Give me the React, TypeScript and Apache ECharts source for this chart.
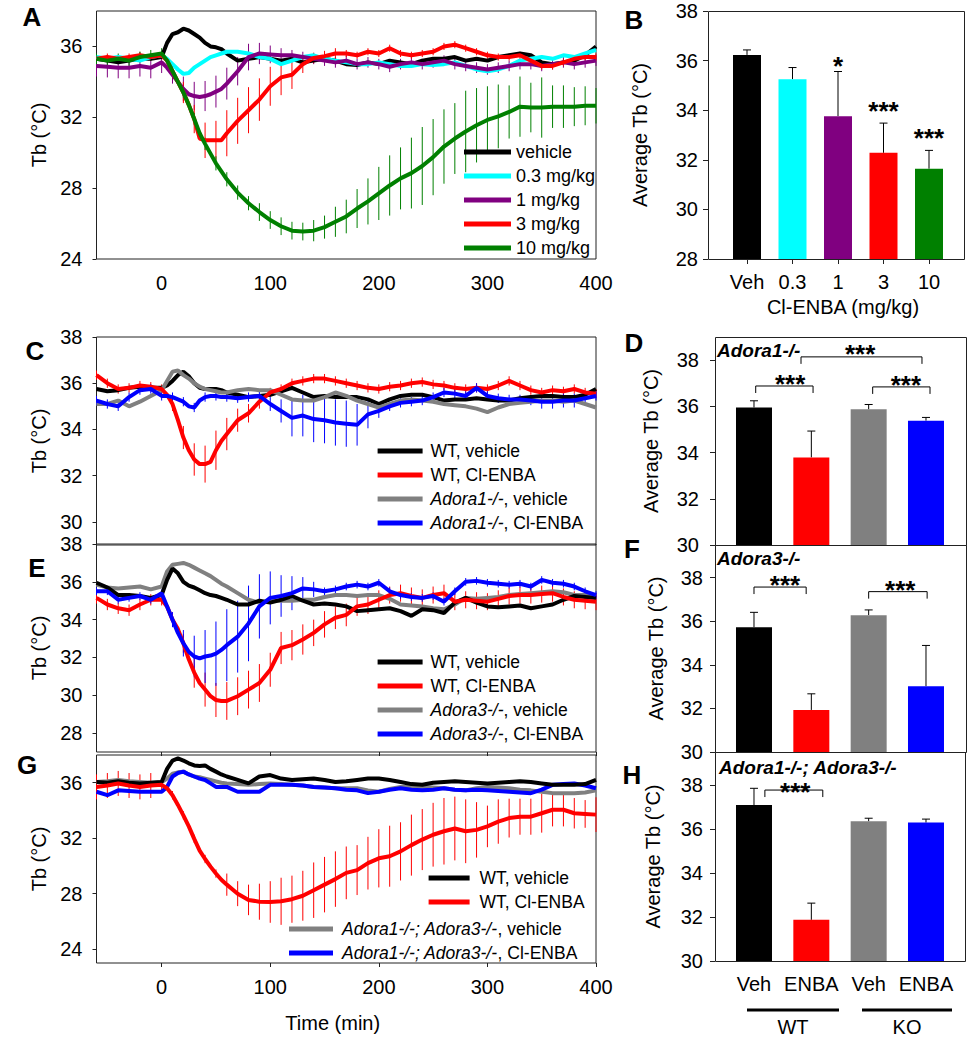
import React, { useEffect, useRef } from 'react';
import * as echarts from 'echarts';

const FONT = 'Arial, "Liberation Sans", Helvetica, sans-serif';

// ---------- time axis (min) ----------
const T = [-60, -50, -40, -30, -20, -10, 0,
  5, 10, 15, 20, 25, 30, 35, 40, 45, 50, 55, 60,
  70, 80, 90, 100, 110, 120, 130, 140, 150, 160,
  170, 180, 190, 200, 210, 220, 230, 240, 250, 260,
  270, 280, 290, 300, 310, 320, 330, 340, 350, 360,
  370, 380, 390, 400];
const X_TICKS = [0, 100, 200, 300, 400];

// ---------- Panel A ----------
const A_VEH = [35.3, 35.2, 35.1, 35.2, 35.3, 35.3, 35.4,
  36.2, 36.7, 36.8, 37.0, 36.9, 36.7, 36.5, 36.2, 36.0, 35.95, 35.85, 35.6,
  35.2, 35.3, 35.4, 35.3, 35.2, 35.3, 35.1, 35.2, 35.3, 35.2,
  35.0, 34.95, 35.1, 35.0, 35.2, 35.1, 35.0, 35.2, 35.3, 35.3,
  35.4, 35.2, 35.3, 35.2, 35.4, 35.5, 35.6, 35.5, 35.1, 35.0,
  35.1, 35.2, 35.5, 36.0];
const A_D03 = [35.4, 35.3, 35.4, 35.3, 35.2, 35.4, 35.5,
  35.3, 35.0, 34.7, 34.45, 34.5, 34.8, 35.0, 35.2, 35.4, 35.5, 35.6, 35.7,
  35.7, 35.6, 35.4, 35.3, 35.0, 35.2, 35.4, 35.5, 35.3, 35.2,
  35.1, 35.0, 35.0, 35.1, 35.0, 34.9, 34.9, 35.0, 34.95, 35.0,
  35.1, 34.9, 34.7, 34.6, 34.7, 34.9, 35.2, 35.3, 35.4, 35.3,
  35.5, 35.4, 35.6, 35.8];
const A_D1 = [34.9, 34.85, 34.8, 34.8, 34.9, 34.8, 35.1,
  34.8, 34.4, 34.0, 33.6, 33.3, 33.2, 33.15, 33.2, 33.3, 33.45, 33.6, 33.9,
  34.6, 35.4, 35.6, 35.55, 35.5, 35.5, 35.4, 35.3, 35.2, 35.1,
  35.2, 35.0, 35.1, 35.0, 34.85, 35.0, 35.1, 35.0, 35.1, 35.2,
  35.0, 34.9, 34.8, 34.7, 34.8, 34.9, 35.0, 35.0, 34.9, 35.0,
  35.1, 35.0, 35.1, 35.2];
const A_D1_ERR = [0.6, 0.6, 0.6, 0.6, 0.6, 0.6, 0.6,
  0.5, 0.5, 0.6, 0.7, 0.8, 0.8, 0.85, 0.85, 0.9, 0.9, 0.9, 0.9,
  0.8, 0.75, 0.6, 0.5, 0.4, 0.3, 0.3, 0.3, 0.3, 0.3,
  0.3, 0.3, 0.3, 0.3, 0.3, 0.3, 0.3, 0.3, 0.3, 0.3,
  0.3, 0.3, 0.3, 0.3, 0.3, 0.3, 0.3, 0.3, 0.3, 0.3,
  0.3, 0.3, 0.3, 0.3];
const A_D3 = [35.3, 35.4, 35.3, 35.4, 35.5, 35.4, 35.5,
  35.2, 34.6, 34.0, 33.4, 32.7, 31.9, 30.8, 30.7, 30.7, 30.7, 30.7, 31.1,
  31.8, 32.4, 33.0, 33.75, 34.25, 34.4, 35.0, 35.35, 35.45, 35.6,
  35.6, 35.5, 35.7, 35.6, 35.9, 35.6, 35.5, 35.6, 35.7, 36.0,
  36.1, 35.9, 35.7, 35.5, 35.4, 35.4, 35.5, 35.2, 34.9, 34.9,
  35.1, 35.3, 35.4, 35.4];
const A_D3_ERR = [0.2, 0.2, 0.2, 0.2, 0.2, 0.2, 0.2,
  0.2, 0.4, 0.5, 0.6, 0.7, 0.8, 0.9, 1.0, 1.0, 1.1, 1.1, 1.3,
  1.3, 1.3, 1.2, 1.1, 1.0, 0.8, 0.5, 0.3, 0.3, 0.3,
  0.2, 0.2, 0.2, 0.2, 0.2, 0.2, 0.2, 0.2, 0.2, 0.2,
  0.2, 0.2, 0.2, 0.2, 0.2, 0.2, 0.2, 0.2, 0.2, 0.2,
  0.2, 0.2, 0.2, 0.2];
const A_D10 = [35.3, 35.2, 35.3, 35.2, 35.4, 35.5, 35.6,
  35.2, 34.6, 34.0, 33.4, 32.7, 31.9, 31.1, 30.5, 29.95, 29.4, 28.95, 28.5,
  27.75, 27.15, 26.65, 26.2, 25.85, 25.6, 25.55, 25.6, 25.8, 26.1,
  26.4, 26.85, 27.25, 27.7, 28.15, 28.55, 28.85, 29.25, 29.75, 30.35,
  30.8, 31.2, 31.55, 31.85, 32.05, 32.3, 32.6, 32.55, 32.55, 32.6,
  32.6, 32.6, 32.65, 32.65];
const A_D10_ERR = [0.3, 0.3, 0.3, 0.3, 0.3, 0.3, 0.3,
  0.3, 0.3, 0.3, 0.3, 0.3, 0.35, 0.35, 0.35, 0.35, 0.4, 0.4, 0.4,
  0.4, 0.4, 0.5, 0.5, 0.5, 0.5, 0.5, 0.6, 0.65, 0.85,
  0.95, 1.1, 1.3, 1.5, 1.7, 1.75, 2.0, 2.2, 2.15, 2.1,
  2.0, 2.3, 2.1, 1.9, 1.8, 1.5, 1.7, 1.4, 1.7, 1.2,
  1.2, 1.1, 1.1, 1.0];

// ---------- Panel C ----------
const C_WT_VEH = [35.75, 35.65, 35.7, 35.8, 35.85, 35.8, 35.8,
  35.9, 36.1, 36.35, 36.5, 36.3, 36.0, 35.8, 35.75, 35.75, 35.75, 35.7, 35.6,
  35.5, 35.4, 35.45, 35.5, 35.65, 35.8, 35.6, 35.4, 35.45, 35.4,
  35.4, 35.4, 35.3, 35.1, 35.3, 35.45, 35.5, 35.5, 35.4, 35.25,
  35.3, 35.3, 35.35, 35.3, 35.25, 35.25, 35.35, 35.4, 35.45, 35.45,
  35.4, 35.4, 35.5, 35.75];
const C_WT_ENBA = [36.35, 36.0, 35.75, 35.8, 35.9, 35.85, 35.75,
  35.5, 35.1, 34.4, 33.65, 33.1, 32.7, 32.5, 32.5, 32.6, 33.1, 33.5, 33.8,
  34.4, 34.7, 35.2, 35.6, 35.75, 36.0, 36.1, 36.2, 36.2, 36.1,
  36.0, 35.9, 35.8, 35.75, 35.85, 35.9, 36.0, 36.05, 35.95, 35.9,
  35.8, 35.75, 35.8, 35.75, 35.9, 36.1, 35.9, 35.7, 35.6, 35.7,
  35.65, 35.75, 35.6, 35.55];
const C_WT_ENBA_ERR = [0.2, 0.2, 0.2, 0.2, 0.2, 0.2, 0.2,
  0.2, 0.3, 0.4, 0.5, 0.6, 0.7, 0.8, 0.8, 0.8, 0.85, 0.8, 0.7,
  0.5, 0.4, 0.3, 0.2, 0.2, 0.2, 0.2, 0.2, 0.2, 0.2,
  0.2, 0.2, 0.2, 0.2, 0.2, 0.2, 0.2, 0.2, 0.2, 0.2,
  0.2, 0.2, 0.2, 0.2, 0.2, 0.2, 0.2, 0.2, 0.2, 0.2,
  0.2, 0.2, 0.2, 0.2];
const C_KO_VEH = [35.1, 35.1, 35.25, 35.0, 35.2, 35.45, 35.7,
  36.1, 36.5, 36.55, 36.35, 36.2, 36.0, 35.85, 35.75, 35.7, 35.65, 35.6, 35.6,
  35.7, 35.75, 35.7, 35.7, 35.5, 35.3, 35.25, 35.25, 35.4, 35.6,
  35.45, 35.25, 35.1, 34.95, 35.1, 35.25, 35.3, 35.25, 35.2, 35.1,
  35.05, 35.0, 34.9, 34.75, 34.95, 35.1, 35.15, 35.2, 35.25, 35.25,
  35.2, 35.25, 35.1, 34.95];
const C_KO_ENBA = [35.25, 35.1, 35.0, 35.4, 35.7, 35.75, 35.45,
  35.45, 35.4, 35.3, 35.2, 35.0, 34.95, 35.25, 35.4, 35.45, 35.45, 35.4, 35.4,
  35.35, 35.4, 35.45, 35.1, 34.8, 34.5, 34.6, 34.45, 34.4, 34.3,
  34.25, 34.2, 34.65, 34.8, 35.0, 35.15, 35.2, 35.25, 35.4, 35.6,
  35.55, 35.45, 35.8, 35.45, 35.35, 35.3, 35.3, 35.25, 35.2, 35.2,
  35.25, 35.25, 35.35, 35.45];
const C_KO_ENBA_ERR = [0.2, 0.2, 0.2, 0.2, 0.2, 0.2, 0.2,
  0.2, 0.2, 0.2, 0.2, 0.2, 0.2, 0.2, 0.2, 0.2, 0.2, 0.2, 0.2,
  0.2, 0.2, 0.2, 0.3, 0.5, 0.8, 0.9, 1.0, 1.0, 1.0,
  1.0, 0.9, 0.6, 0.3, 0.2, 0.2, 0.2, 0.2, 0.2, 0.2,
  0.2, 0.2, 0.2, 0.2, 0.2, 0.2, 0.2, 0.2, 0.3, 0.3,
  0.3, 0.3, 0.2, 0.2];

// ---------- Panel E ----------
const E_WT_VEH = [35.95, 35.7, 35.3, 35.3, 35.25, 35.15, 35.3,
  36.1, 36.7, 36.45, 36.0, 35.8, 35.7, 35.55, 35.4, 35.3, 35.25, 35.15, 35.05,
  34.8, 34.8, 35.0, 34.9, 35.05, 35.25, 35.0, 34.8, 34.85, 34.8,
  34.7, 34.45, 34.5, 34.55, 34.6, 34.45, 34.2, 34.55, 34.5, 34.35,
  34.9, 35.15, 34.9, 34.7, 34.65, 34.7, 34.75, 34.6, 34.7, 34.8,
  35.05, 35.25, 35.2, 35.15];
const E_WT_ENBA = [35.15, 34.8, 34.6, 34.5, 34.8, 35.05, 35.05,
  34.7, 34.0, 33.5, 32.75, 31.9, 31.2, 30.65, 30.3, 29.95, 29.75, 29.7, 29.7,
  29.95, 30.3, 30.65, 31.35, 32.5, 32.65, 32.95, 33.3, 33.75, 34.1,
  34.25, 34.7, 34.8, 35.05, 35.3, 35.4, 35.25, 35.15, 35.3, 35.4,
  34.95, 35.05, 35.0, 34.95, 35.1, 35.25, 35.3, 35.3, 35.35, 35.4,
  35.2, 35.05, 35.0, 34.95];
const E_WT_ENBA_ERR = [0.3, 0.3, 0.3, 0.3, 0.3, 0.3, 0.3,
  0.3, 0.3, 0.4, 0.5, 0.6, 0.8, 0.8, 0.9, 0.9, 0.9, 1.0, 1.0,
  1.0, 1.0, 1.0, 0.9, 0.85, 0.8, 0.8, 0.7, 0.7, 0.6,
  0.6, 0.5, 0.5, 0.5, 0.45, 0.45, 0.45, 0.45, 0.45, 0.45,
  0.45, 0.45, 0.45, 0.45, 0.45, 0.45, 0.45, 0.45, 0.45, 0.45,
  0.45, 0.45, 0.45, 0.45];
const E_KO_VEH = [35.85, 35.7, 35.65, 35.7, 35.75, 35.6, 35.75,
  36.55, 36.9, 36.95, 37.0, 36.9, 36.75, 36.6, 36.45, 36.3, 36.1, 35.9, 35.75,
  35.4, 35.05, 34.9, 35.0, 35.0, 35.0, 35.05, 35.05, 35.2, 35.3,
  35.3, 35.25, 35.3, 35.3, 35.1, 34.8, 34.75, 34.7, 34.6, 34.55,
  34.8, 35.15, 35.1, 35.15, 35.2, 35.3, 35.35, 35.4, 35.45, 35.5,
  35.45, 35.3, 35.3, 35.25];
const E_KO_ENBA = [35.5, 35.5, 35.05, 35.15, 35.25, 35.05, 35.4,
  34.7, 34.0, 33.3, 32.75, 32.3, 32.05, 31.95, 32.05, 32.1, 32.2, 32.4, 32.65,
  33.1, 33.8, 34.7, 35.15, 35.25, 35.4, 35.65, 35.6, 35.5, 35.6,
  35.75, 35.85, 35.75, 35.95, 35.5, 35.3, 35.2, 35.15, 35.25, 34.95,
  35.5, 36.0, 36.05, 35.95, 35.9, 35.85, 35.9, 35.75, 36.1, 35.95,
  35.9, 35.75, 35.5, 35.3];
const E_KO_ENBA_ERR = [0.2, 0.2, 0.2, 0.2, 0.2, 0.2, 0.2,
  0.3, 0.4, 0.6, 0.7, 0.8, 1.1, 1.2, 1.4, 1.5, 1.7, 1.8, 1.9,
  1.9, 2.0, 1.7, 1.4, 1.1, 0.9, 0.6, 0.4, 0.2, 0.2,
  0.2, 0.2, 0.2, 0.2, 0.2, 0.2, 0.2, 0.2, 0.2, 0.2,
  0.2, 0.2, 0.2, 0.2, 0.2, 0.2, 0.2, 0.2, 0.2, 0.2,
  0.2, 0.2, 0.2, 0.2];

// ---------- Panel G ----------
const G_WT_VEH = [36.05, 36.0, 36.1, 36.0, 35.95, 36.0, 36.05,
  37.0, 37.6, 37.75, 37.6, 37.4, 37.25, 37.2, 37.25, 37.0, 36.8, 36.6, 36.45,
  36.2, 35.95, 36.45, 36.55, 36.3, 36.2, 36.25, 36.3, 36.2, 36.05,
  36.1, 36.2, 36.3, 36.3, 36.2, 36.05, 35.9, 35.85, 36.0, 36.05,
  36.1, 36.05, 36.0, 35.95, 36.0, 36.05, 36.1, 36.05, 35.95, 35.85,
  35.85, 35.85, 35.9, 36.2];
const G_WT_ENBA = [35.7, 35.8, 35.95, 35.8, 35.7, 35.8, 35.85,
  35.6, 35.1, 34.4, 33.65, 32.85, 31.95, 31.1, 30.5, 29.95, 29.45, 29.0, 28.65,
  28.0, 27.55, 27.42, 27.4, 27.45, 27.6, 27.85, 28.25, 28.65, 29.05,
  29.5, 29.7, 30.2, 30.55, 30.7, 31.05, 31.5, 31.9, 32.25, 32.5,
  32.7, 32.5, 32.6, 32.85, 33.2, 33.45, 33.55, 33.55, 33.8, 34.05,
  34.05, 33.8, 33.75, 33.7];
const G_WT_ENBA_ERR = [0.9, 0.9, 0.9, 0.9, 0.9, 0.9, 0.4,
  0.3, 0.3, 0.3, 0.3, 0.3, 0.3, 0.3, 0.3, 0.3, 0.3, 0.5, 0.8,
  0.9, 1.1, 1.3, 1.5, 1.7, 1.7, 1.8, 2.0, 2.0, 2.0,
  1.9, 1.8, 1.9, 2.1, 2.2, 2.1, 2.2, 2.2, 2.3, 2.4,
  2.3, 2.3, 2.0, 1.5, 1.6, 1.4, 1.3, 1.3, 1.4, 1.2,
  1.2, 1.1, 1.0, 1.25];
const G_KO_VEH = [36.05, 36.1, 36.2, 36.1, 36.05, 36.0, 36.05,
  36.3, 36.65, 36.75, 36.8, 36.6, 36.45, 36.4, 36.3, 36.2, 36.1, 36.0, 35.95,
  35.9, 35.85, 35.9, 35.95, 35.9, 35.85, 35.8, 35.7, 35.65, 35.6,
  35.6, 35.6, 35.45, 35.35, 35.55, 35.7, 35.7, 35.7, 35.65, 35.6,
  35.5, 35.45, 35.6, 35.7, 35.65, 35.6, 35.5, 35.45, 35.35, 35.25,
  35.25, 35.25, 35.3, 35.45];
const G_KO_ENBA = [35.35, 35.1, 35.45, 35.4, 35.35, 35.35, 35.35,
  35.7, 36.45, 36.7, 36.8, 36.6, 36.45, 36.3, 36.2, 35.95, 35.7, 35.7, 35.7,
  35.35, 35.35, 35.35, 35.85, 35.85, 35.85, 35.8, 35.7, 35.65, 35.6,
  35.5, 35.45, 35.25, 35.35, 35.5, 35.6, 35.5, 35.45, 35.5, 35.6,
  35.5, 35.45, 35.5, 35.45, 35.4, 35.35, 35.3, 35.25, 35.5, 35.85,
  35.9, 35.95, 35.8, 35.6];

// ---------- Bar panels ----------
const CAT_B = ['Veh', '0.3', '1', '3', '10'];
const MEAN_B = [36.23, 35.25, 33.76, 32.28, 31.64];
const ERR_B = [0.2, 0.47, 1.8, 1.2, 0.74];
const STAR_B_X = [2, 3, 4];
const STAR_B_Y = [36.05, 34.25, 33.15];
const STAR_B_TXT = ['*', '***', '***'];

const CAT_KO = ['Veh', 'ENBA', 'Veh', 'ENBA'];
const MEAN_D = [35.95, 33.79, 35.87, 35.38];
const ERR_D = [0.29, 1.14, 0.21, 0.14];
const BRK_D_X1 = [0.03, 2.07, 0.82];
const BRK_D_X2 = [1.03, 3.07, 2.93];
const BRK_D_Y = [36.88, 36.84, 38.14];
const STAR_D_X = [0.63, 2.65, 1.85];
const STAR_D_Y = [37.27, 37.23, 38.55];
const STAR_D_TXT = ['***', '***', '***'];

const MEAN_F = [35.73, 31.93, 36.28, 33.02];
const ERR_F = [0.68, 0.74, 0.24, 1.87];
const BRK_F_X1 = [0, 2.0];
const BRK_F_X2 = [0.91, 3.02];
const BRK_F_Y = [37.57, 37.36];
const STAR_F_X = [0.54, 2.55];
const STAR_F_Y = [37.99, 37.77];
const STAR_F_TXT = ['***', '***'];

const MEAN_H = [37.09, 31.87, 36.35, 36.29];
const ERR_H = [0.76, 0.76, 0.14, 0.16];
const BRK_H_X1 = [0.19];
const BRK_H_X2 = [1.2];
const BRK_H_Y = [37.77];
const STAR_H_X = [0.72];
const STAR_H_Y = [38.0];
const STAR_H_TXT = ['***'];

const BLACK = '#000000';
const CYAN = '#00FFFF';
const PURPLE = '#800080';
const RED = '#FF0000';
const GREEN = '#008000';
const GRAY = '#808080';
const BLUE = '#0000FF';
const KO_COLORS = [BLACK, RED, GRAY, BLUE];
const B_COLORS = [BLACK, CYAN, PURPLE, RED, GREEN];

const AX_TXT = { color: '#000', fontSize: 20, fontFamily: FONT };
const NAME_TXT = { color: '#000', fontSize: 20, fontFamily: FONT };

const pts = (vals: number[]) => T.map((t, i) => [t, vals[i]]);
const errPts = (vals: number[], errs: number[]) =>
  T.map((t, i) => [t, vals[i], errs[i]]).filter((d) => d[0] % 10 === 0 && d[2] > 0);

function lineSeries(name: string, g: number, vals: number[], color: string) {
  return {
    type: 'line', name, xAxisIndex: g, yAxisIndex: g, data: pts(vals),
    showSymbol: false, symbol: 'none', silent: true,
    lineStyle: { color, width: 4 }, itemStyle: { color },
  };
}
function errSeries(g: number, vals: number[], errs: number[], color: string) {
  return {
    type: 'custom', xAxisIndex: g, yAxisIndex: g, data: errPts(vals, errs), silent: true, clip: true,
    encode: { x: 0, y: 1 },
    renderItem: (params: any, api: any) => {
      const x = api.value(0), y = api.value(1), e = api.value(2);
      const a = api.coord([x, y - e]);
      const b = api.coord([x, y + e]);
      return { type: 'line', shape: { x1: a[0], y1: a[1], x2: b[0], y2: b[1] }, style: { stroke: color, lineWidth: 1 } };
    },
  };
}
function barSeries(g: number, means: number[], colors: string[], width: number) {
  return {
    type: 'bar', xAxisIndex: g, yAxisIndex: g, barWidth: width, silent: true,
    data: means.map((m, i) => ({ value: m, itemStyle: { color: colors[i] } })),
  };
}
function barErrSeries(g: number, means: number[], errs: number[]) {
  return {
    type: 'custom', xAxisIndex: g, yAxisIndex: g, silent: true,
    data: means.map((m, i) => [i, m, errs[i]]),
    renderItem: (params: any, api: any) => {
      const i = api.value(0), m = api.value(1), e = api.value(2);
      const a = api.coord([i, m]);
      const b = api.coord([i, m + e]);
      return {
        type: 'group', children: [
          { type: 'line', shape: { x1: a[0], y1: a[1], x2: b[0], y2: b[1] }, style: { stroke: '#000', lineWidth: 1 } },
          { type: 'line', shape: { x1: b[0] - 4, y1: b[1], x2: b[0] + 4, y2: b[1] }, style: { stroke: '#000', lineWidth: 1 } },
        ],
      };
    },
  };
}
const bandX = (api: any, f: number, y: number) => {
  const a = api.coord([0, y]);
  const b = api.coord([1, y]);
  return [a[0] + f * (b[0] - a[0]), a[1]];
};
function bracketSeries(g: number, x1s: number[], x2s: number[], ys: number[]) {
  return {
    type: 'custom', xAxisIndex: g, yAxisIndex: g, silent: true,
    data: ys.map((y, i) => [0, y]),
    renderItem: (params: any, api: any) => {
      const i = params.dataIndex;
      const p1 = bandX(api, x1s[i], ys[i]);
      const p2 = bandX(api, x2s[i], ys[i]);
      const leg = 7;
      return {
        type: 'polyline',
        shape: { points: [[p1[0], p1[1] + leg], [p1[0], p1[1]], [p2[0], p2[1]], [p2[0], p2[1] + leg]] },
        style: { stroke: '#000', lineWidth: 1, fill: 'none' },
      };
    },
  };
}
function starSeries(g: number, xs: number[], ys: number[], txts: string[]) {
  return {
    type: 'custom', xAxisIndex: g, yAxisIndex: g, silent: true,
    data: ys.map((y, i) => [0, y]),
    renderItem: (params: any, api: any) => {
      const i = params.dataIndex;
      const p = bandX(api, xs[i], ys[i]);
      return {
        type: 'text', x: p[0], y: p[1] + 7,
        style: { text: txts[i], fill: '#000', fontSize: 26, fontWeight: 'bold', fontFamily: FONT, align: 'center', verticalAlign: 'middle' },
      };
    },
  };
}

function lineX(g: number, labels: boolean, ticks: boolean, extra: any = {}) {
  return {
    type: 'value', gridIndex: g, min: -60, max: 400,
    axisLine: { show: false, onZero: false },
    axisTick: { show: ticks, customValues: X_TICKS, length: 4, lineStyle: { color: '#222' } },
    axisLabel: { show: labels, customValues: X_TICKS, margin: 14, ...AX_TXT },
    splitLine: { show: false },
    ...extra,
  };
}
function lineY(g: number, min: number, max: number, ticks: number[]) {
  return {
    type: 'value', gridIndex: g, min, max,
    axisLine: { show: false, onZero: false },
    axisTick: { show: true, customValues: ticks, length: 4, lineStyle: { color: '#222' } },
    axisLabel: { customValues: ticks, margin: 14, ...AX_TXT },
    splitLine: { show: false },
    name: 'Tb (°C)', nameLocation: 'middle', nameRotate: 90, nameGap: 43, nameTextStyle: NAME_TXT,
  };
}
function barX(g: number, cats: string[], labels: boolean, ticks: boolean, extra: any = {}) {
  return {
    type: 'category', gridIndex: g, data: cats,
    axisLine: { show: false, onZero: false },
    axisTick: { show: ticks, alignWithLabel: true, length: 5, lineStyle: { color: '#222' } },
    axisLabel: { show: labels, interval: 0, margin: 13, ...AX_TXT },
    splitLine: { show: false },
    ...extra,
  };
}
function barY(g: number, min: number, max: number, ticks: number[], offset: number, margin: number, nameGap: number) {
  return {
    type: 'value', gridIndex: g, min, max, offset,
    axisLine: { show: false, onZero: false },
    axisTick: { show: true, customValues: ticks, length: 5, lineStyle: { color: '#222' } },
    axisLabel: { customValues: ticks, margin, ...AX_TXT },
    splitLine: { show: false },
    name: 'Average Tb (°C)', nameLocation: 'middle', nameRotate: 90, nameGap, nameTextStyle: NAME_TXT,
  };
}

const legendFmt = (name: string) => {
  const s = name.replace(/^[A-Z]:/, '');
  const m = s.match(/^(Adora[^,]*),(.*)$/);
  return m ? `{i|${m[1]}}{n|,${m[2]}}` : `{n|${s}}`;
};
function legend(names: string[], left: number, top: number, itemWidth: number, fontSize: number, padLeft: number) {
  return {
    data: names, left, top, orient: 'vertical', itemWidth, itemHeight: 5, itemGap: 24 - 18,
    icon: 'rect', padding: 0, selectedMode: false, formatter: legendFmt,
    textStyle: {
      fontSize, fontFamily: FONT, color: '#000', lineHeight: 18, padding: [0, 0, 0, padLeft],
      rich: {
        i: { fontStyle: 'italic', fontSize, fontFamily: FONT, color: '#000', lineHeight: 18 },
        n: { fontSize, fontFamily: FONT, color: '#000', lineHeight: 18 },
      },
    },
  };
}

function buildOption() {
  const lineGrid = (top: number, height: number) => ({
    left: 96.5, top, width: 499.5, height, show: true, borderColor: '#222', borderWidth: 1,
    backgroundColor: 'transparent', outerBoundsMode: 'none',
  });
  const barGrid = (left: number, top: number, width: number, height: number) => ({
    left, top, width, height, show: false, outerBoundsMode: 'none',
  });

  const letter = (t: string, x: number, y: number) => ({
    type: 'text', x, y, silent: true,
    style: { text: t, fill: '#000', fontSize: 26, fontWeight: 'bold', fontFamily: FONT, align: 'center', verticalAlign: 'middle' },
  });
  const frame = (x: number, y: number, w: number, h: number) => ({
    type: 'rect', silent: true, shape: { x: x + 0.5, y: y + 0.5, width: w, height: h },
    style: { fill: 'none', stroke: '#222', lineWidth: 1 },
  });
  const gLabel = (t: string, x: number, y: number) => ({
    type: 'text', x, y, silent: true,
    style: { text: t, fill: '#000', fontSize: 19, fontWeight: 'bold', fontStyle: 'italic', fontFamily: FONT, align: 'left', verticalAlign: 'middle' },
  });
  const plain = (t: string, x: number, y: number) => ({
    type: 'text', x, y, silent: true,
    style: { text: t, fill: '#000', fontSize: 20, fontFamily: FONT, align: 'center', verticalAlign: 'middle' },
  });
  const hline = (x1: number, x2: number, y: number) => ({
    type: 'line', silent: true, shape: { x1, y1: y, x2, y2: y }, style: { stroke: '#000', lineWidth: 3 },
  });

  return {
    animation: false,
    backgroundColor: '#ffffff',
    textStyle: { fontFamily: FONT },
    grid: [
      lineGrid(11, 248),            // 0 A
      lineGrid(337, 208),           // 1 C
      lineGrid(544, 208),           // 2 E
      lineGrid(755, 208),           // 3 G
      barGrid(724.25, 11, 227.5, 248),   // 4 B
      barGrid(725.33, 337, 229.33, 208), // 5 D
      barGrid(725.33, 545, 229.33, 207), // 6 F
      barGrid(725.33, 752, 229.33, 209), // 7 H
    ],
    xAxis: [
      lineX(0, true, false),
      lineX(1, false, false),
      lineX(2, false, true),
      lineX(3, true, true, {
        name: 'Time (min)', nameLocation: 'middle', nameGap: 50,
        nameTextStyle: { ...NAME_TXT, padding: [0, 27, 0, 0] },
      }),
      barX(4, CAT_B, true, true, {
        name: 'Cl-ENBA (mg/kg)', nameLocation: 'middle', nameGap: 38,
        nameTextStyle: { ...NAME_TXT, padding: [0, 0, 0, 10] },
      }),
      barX(5, CAT_KO, false, false),
      barX(6, CAT_KO, false, false),
      barX(7, CAT_KO, true, false),
    ],
    yAxis: [
      lineY(0, 24, 38, [24, 28, 32, 36]),
      lineY(1, 29, 38, [30, 32, 34, 36, 38]),
      lineY(2, 27, 38, [28, 30, 32, 34, 36, 38]),
      lineY(3, 23, 38, [24, 28, 32, 36]),
      barY(4, 28, 38, [28, 30, 32, 34, 36, 38], 16.25, 10, 58),
      barY(5, 30, 39, [30, 32, 34, 36, 38], 10.33, 16, 54),
      barY(6, 30, 39.5, [30, 32, 34, 36, 38], 10.33, 12, 49),
      barY(7, 30, 39.5, [30, 32, 34, 36, 38], 10.33, 12, 52),
    ],
    legend: [
      legend(['vehicle', '0.3 mg/kg', '1 mg/kg', '3 mg/kg', '10 mg/kg'], 464, 143, 47, 18, 0),
      legend(['C:WT, vehicle', 'C:WT, Cl-ENBA', 'C:Adora1-/-, vehicle', 'C:Adora1-/-, Cl-ENBA'], 377.6, 442, 45, 17.5, 3),
      legend(['E:WT, vehicle', 'E:WT, Cl-ENBA', 'E:Adora3-/-, vehicle', 'E:Adora3-/-, Cl-ENBA'], 377.6, 653, 45, 17.5, 3),
      legend(['G:WT, vehicle', 'G:WT, Cl-ENBA'], 428.6, 869, 41, 17.5, 5),
      legend(['G:Adora1-/-; Adora3-/-, vehicle', 'G:Adora1-/-; Adora3-/-, Cl-ENBA'], 289, 920, 44, 17.5, 4),
    ],
    series: [
      // A
      lineSeries('vehicle', 0, A_VEH, BLACK),
      lineSeries('0.3 mg/kg', 0, A_D03, CYAN),
      lineSeries('1 mg/kg', 0, A_D1, PURPLE),
      lineSeries('3 mg/kg', 0, A_D3, RED),
      lineSeries('10 mg/kg', 0, A_D10, GREEN),
      errSeries(0, A_D1, A_D1_ERR, PURPLE),
      errSeries(0, A_D3, A_D3_ERR, RED),
      errSeries(0, A_D10, A_D10_ERR, GREEN),
      // C
      lineSeries('C:WT, vehicle', 1, C_WT_VEH, BLACK),
      lineSeries('C:Adora1-/-, vehicle', 1, C_KO_VEH, GRAY),
      lineSeries('C:WT, Cl-ENBA', 1, C_WT_ENBA, RED),
      lineSeries('C:Adora1-/-, Cl-ENBA', 1, C_KO_ENBA, BLUE),
      errSeries(1, C_WT_ENBA, C_WT_ENBA_ERR, RED),
      errSeries(1, C_KO_ENBA, C_KO_ENBA_ERR, BLUE),
      // E
      lineSeries('E:Adora3-/-, vehicle', 2, E_KO_VEH, GRAY),
      lineSeries('E:WT, vehicle', 2, E_WT_VEH, BLACK),
      lineSeries('E:WT, Cl-ENBA', 2, E_WT_ENBA, RED),
      lineSeries('E:Adora3-/-, Cl-ENBA', 2, E_KO_ENBA, BLUE),
      errSeries(2, E_WT_ENBA, E_WT_ENBA_ERR, RED),
      errSeries(2, E_KO_ENBA, E_KO_ENBA_ERR, BLUE),
      // G
      lineSeries('G:Adora1-/-; Adora3-/-, vehicle', 3, G_KO_VEH, GRAY),
      lineSeries('G:Adora1-/-; Adora3-/-, Cl-ENBA', 3, G_KO_ENBA, BLUE),
      lineSeries('G:WT, vehicle', 3, G_WT_VEH, BLACK),
      lineSeries('G:WT, Cl-ENBA', 3, G_WT_ENBA, RED),
      errSeries(3, G_WT_ENBA, G_WT_ENBA_ERR, RED),
      // B
      barSeries(4, MEAN_B, B_COLORS, 28),
      barErrSeries(4, MEAN_B, ERR_B),
      starSeries(4, STAR_B_X, STAR_B_Y, STAR_B_TXT),
      // D
      barSeries(5, MEAN_D, KO_COLORS, 36),
      barErrSeries(5, MEAN_D, ERR_D),
      bracketSeries(5, BRK_D_X1, BRK_D_X2, BRK_D_Y),
      starSeries(5, STAR_D_X, STAR_D_Y, STAR_D_TXT),
      // F
      barSeries(6, MEAN_F, KO_COLORS, 36),
      barErrSeries(6, MEAN_F, ERR_F),
      bracketSeries(6, BRK_F_X1, BRK_F_X2, BRK_F_Y),
      starSeries(6, STAR_F_X, STAR_F_Y, STAR_F_TXT),
      // H
      barSeries(7, MEAN_H, KO_COLORS, 36),
      barErrSeries(7, MEAN_H, ERR_H),
      bracketSeries(7, BRK_H_X1, BRK_H_X2, BRK_H_Y),
      starSeries(7, STAR_H_X, STAR_H_Y, STAR_H_TXT),
    ],
    graphic: [
      frame(708, 11, 256, 248),
      frame(715, 337, 251, 208),
      frame(715, 545, 251, 207),
      frame(715, 752, 250, 209),
      letter('A', 32, 17),
      letter('B', 634, 20),
      letter('C', 35, 351),
      letter('D', 634, 343),
      letter('E', 37, 568),
      letter('F', 632, 549),
      letter('G', 27, 765),
      letter('H', 632, 775),
      gLabel('Adora1-/-', 717, 350),
      gLabel('Adora3-/-', 717, 558),
      gLabel('Adora1-/-; Adora3-/-', 719, 767),
      hline(747, 839, 1010),
      hline(862, 952, 1010),
      plain('WT', 793, 1027),
      plain('KO', 907, 1027),
    ],
  };
}

export default function App() {
  const ref = useRef<HTMLDivElement>(null);
  useEffect(() => {
    const chart = echarts.init(ref.current as HTMLDivElement, null, { renderer: 'svg' });
    chart.setOption(buildOption() as any);
    return () => chart.dispose();
  }, []);
  return (
    <div
      ref={ref}
      style={{ position: 'absolute', left: 0, top: 0, width: 971, height: 1050, background: '#fff' }}
    />
  );
}
